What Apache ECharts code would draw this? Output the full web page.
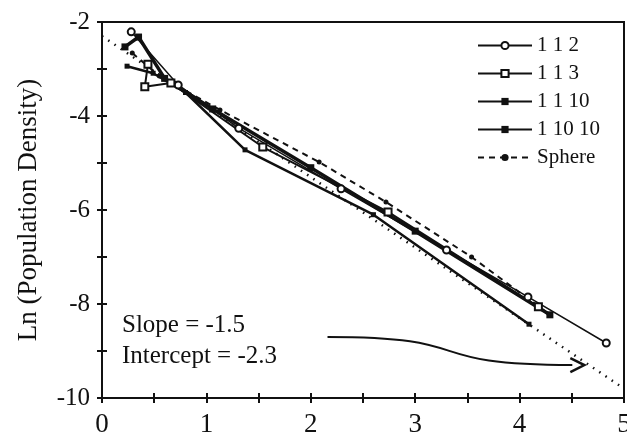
<!DOCTYPE html>
<html><head><meta charset="utf-8">
<script src="https://cdn.jsdelivr.net/npm/echarts@6/dist/echarts.min.js"></script>
<style>html,body{margin:0;padding:0;background:#fff}#c{width:627px;height:434px}</style>
</head><body><div id="c"></div>
<script>
const xTicks = [0, 1, 2, 3, 4, 5];
const yTicks = [-10, -8, -6, -4, -2];
const seriesNames = ['1 1 2', '1 1 3', '1 1 10', '1 10 10', 'Sphere'];
const s112 = [[0.28,-2.21],[0.73,-3.34],[1.31,-4.26],[2.29,-5.55],[3.3,-6.85],[4.08,-7.85],[4.83,-8.83]];
const s113 = [[0.44,-2.9],[0.41,-3.38],[0.66,-3.3],[1.54,-4.66],[2.74,-6.04],[4.18,-8.06]];
const s1110 = [[0.24,-2.94],[0.49,-3.09],[0.8,-3.5],[1.37,-4.72],[2.6,-6.1],[4.09,-8.43]];
const s11010 = [[0.22,-2.53],[0.35,-2.32],[0.6,-3.2],[1.06,-3.85],[2.0,-5.1],[3.0,-6.45],[4.29,-8.23]];
const sphere = [[0.29,-2.66],[0.55,-3.15],[1.13,-3.87],[2.08,-4.98],[2.72,-5.83],[3.54,-7.0],[4.29,-8.23]];
const fitSlope = -1.5, fitIntercept = -2.3;
const fitX = [0, 5];
const annotation = ['Slope = -1.5', 'Intercept = -2.3'];
const arrowPath = [[2.16,-8.7],[3.1,-8.7],[3.55,-9.25],[4.62,-9.3]];

const fit = fitX.map(x => [x, fitSlope * x + fitIntercept]);
const FONT = '"Liberation Serif", "Times New Roman", serif';
const INK = '#111';

const chart = echarts.init(document.getElementById('c'));
function xAxisCfg(inside, show) {
  return {
    type: 'value', min: 0, max: 5, interval: 1, position: 'bottom',
    axisLine: { show: true, onZero: false, lineStyle: { color: INK, width: 2 } },
    axisTick: { show: true, inside: inside, length: 5, lineStyle: { color: INK, width: 2 } },
    minorTick: { show: true, splitNumber: 2, length: 5, lineStyle: { color: INK, width: 2 } },
    axisLabel: { show: show, color: INK, fontFamily: FONT, fontSize: 27, margin: 13 },
    splitLine: { show: false }
  };
}
function yAxisCfg(inside, show) {
  return {
    type: 'value', min: -10, max: -2, interval: 2, position: 'left',
    axisLine: { show: true, onZero: false, lineStyle: { color: INK, width: 2 } },
    axisTick: { show: true, inside: inside, length: 5, lineStyle: { color: INK, width: 2 } },
    minorTick: { show: true, splitNumber: 2, length: 5, lineStyle: { color: INK, width: 2 } },
    axisLabel: { show: show, color: INK, fontFamily: FONT, fontSize: 25, margin: 12 },
    splitLine: { show: false },
    name: show ? 'Ln (Population Density)' : '',
    nameLocation: 'middle', nameGap: 60, nameRotate: 90,
    nameTextStyle: { color: INK, fontFamily: FONT, fontSize: 27 }
  };
}
const mk = (name, data, symbol, size, lw, dash) => ({
  name, type: 'line', data, xAxisIndex: 0, yAxisIndex: 0,
  symbol, symbolSize: size, showSymbol: true,
  lineStyle: { color: INK, width: lw, type: dash },
  itemStyle: { color: INK, borderWidth: 1.5 },
  z: 3, animation: false
});
chart.setOption({
  animation: false,
  backgroundColor: '#fff',
  grid: { left: 102, right: 3, top: 22, bottom: 36, outerBoundsMode: 'none', containLabel: false,
          show: true, borderColor: INK, borderWidth: 2, backgroundColor: 'transparent' },
  xAxis: [xAxisCfg(false, true), xAxisCfg(true, false)],
  yAxis: [yAxisCfg(false, true), yAxisCfg(true, false)],
  legend: {
    data: seriesNames, orient: 'vertical', left: 472, top: 30,
    itemWidth: 54, itemHeight: 9, itemGap: 7,
    textStyle: { color: INK, fontFamily: FONT, fontSize: 21, lineHeight: 20 }
  },
  series: [
    mk(seriesNames[0], s112, 'emptyCircle', 7, 1.5, 'solid'),
    mk(seriesNames[1], s113, 'emptyRect', 7, 2, 'solid'),
    mk(seriesNames[2], s1110, 'rect', 5, 2.5, 'solid'),
    mk(seriesNames[3], s11010, 'rect', 7, 3.5, 'solid'),
    mk(seriesNames[4], sphere, 'circle', 5, 2, [6, 5]),
    { name: 'fit', type: 'line', data: fit, symbol: 'none', lineStyle: { color: INK, width: 2.5, type: [1.5, 6] }, z: 2, animation: false }
  ]
});
const p = arrowPath.map(d => chart.convertToPixel({ gridIndex: 0 }, d));
const end = p[3];
chart.setOption({
  graphic: [
    { type: 'text', left: 122, top: 313, style: { text: annotation[0], font: '25px ' + FONT, fill: INK } },
    { type: 'text', left: 122, top: 344, style: { text: annotation[1], font: '25px ' + FONT, fill: INK } },
    { type: 'bezierCurve', shape: { x1: p[0][0], y1: p[0][1], x2: end[0] - 12, y2: end[1], cpx1: p[1][0] + 60, cpy1: p[1][1], cpx2: p[2][0] - 60, cpy2: p[2][1] + 2 },
      style: { stroke: INK, lineWidth: 2, fill: null } },
    { type: 'polyline', shape: { points: [[end[0] - 14, end[1] - 7], [end[0], end[1]], [end[0] - 14, end[1] + 7]] },
      style: { stroke: INK, lineWidth: 2.5, fill: null } }
  ]
});
</script></body></html>
